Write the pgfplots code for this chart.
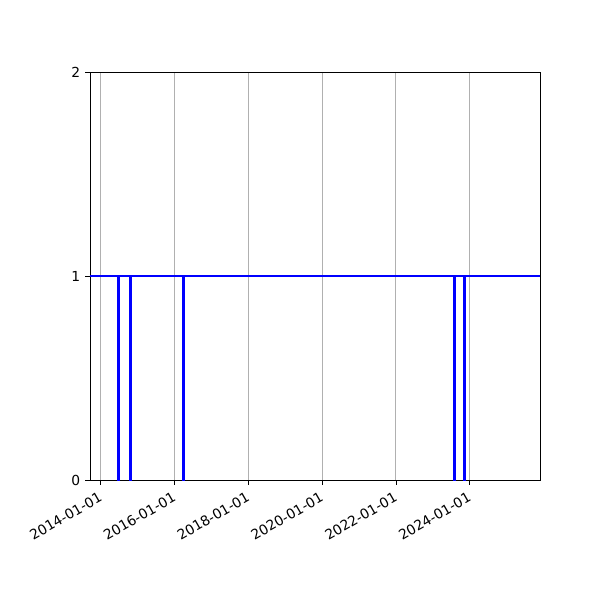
\documentclass[border=0pt]{standalone}
\usepackage{pgfplots}
\pgfplotsset{compat=1.18}
\usepackage{fontspec}
\setmainfont{DejaVu Sans}
\begin{document}
\begin{tikzpicture}
\path[use as bounding box] (-64.8bp,-86.4bp) rectangle (367.2bp,345.6bp);
\begin{axis}[
  at={(0,0)}, anchor=south west,
  scale only axis, width=324bp, height=293.76bp,
  xmin=-106, xmax=4348, ymin=0, ymax=2,
  xtick={0,730,1461,2191,2922,3652},
  xticklabels={2014-01-01,2016-01-01,2018-01-01,2020-01-01,2022-01-01,2024-01-01},
  ytick={0,1,2},
  /pgf/number format/assume math mode=true,
  tick label style={font=\fontsize{10}{12}\selectfont},
  x tick label style={rotate=30, anchor=north east, inner sep=1pt, yshift=-2pt, xshift=-3pt},
  xmajorgrids, major grid style={color=black!31, line width=0.8bp},
  tick align=outside, tick pos=lower,
  major tick length=3.5bp,
  every tick/.style={black, line width=0.6bp},
  axis line style={line width=0.6bp},
  clip=true,
]
\addplot[blue, line width=2bp, line join=miter] coordinates {
(-106,1) (171,1) (171,0) (179,0) (179,1)
(292,1) (292,0) (294,0) (294,1)
(816,1) (816,0) (818,0) (818,1)
(3499,1) (3499,0) (3501,0) (3501,1)
(3597,1) (3597,0) (3599,0) (3599,1)
(4348,1)
};
\end{axis}
\end{tikzpicture}
\end{document}
